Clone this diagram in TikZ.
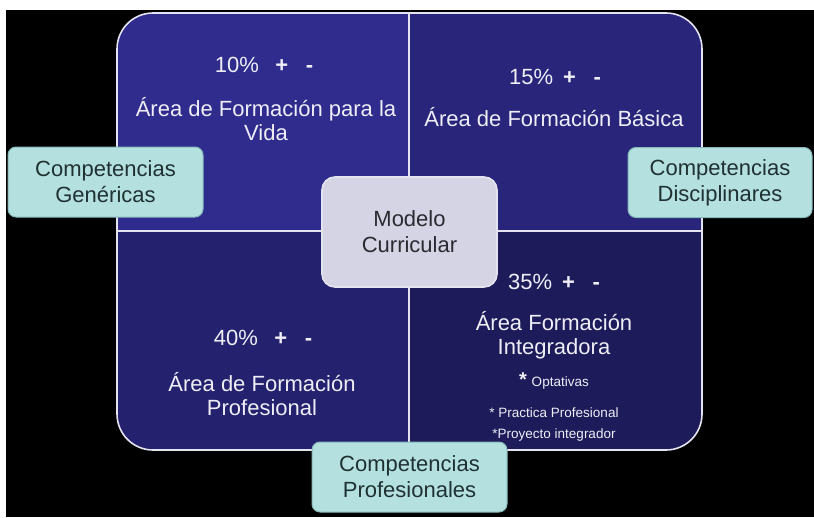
\documentclass[tikz,border=0pt]{standalone}
\usepackage{fontspec}
\setmainfont{Liberation Sans}
\usetikzlibrary{positioning}
\usepackage{xcolor}

\definecolor{areatl}{HTML}{2F2C8E}
\definecolor{areatr}{HTML}{28257A}
\definecolor{areabl}{HTML}{24216F}
\definecolor{areabr}{HTML}{1D1B59}
\definecolor{linecol}{HTML}{E4E3F0}
\definecolor{areatext}{HTML}{EEEEF6}
\definecolor{modelfill}{HTML}{D5D4E4}
\definecolor{modeltext}{HTML}{2A2A33}
\definecolor{compfill}{HTML}{B5E0E0}
\definecolor{compedge}{HTML}{86B9BA}
\definecolor{comptext}{HTML}{1F3133}

\begin{document}
\begin{tikzpicture}[x=1pt, y=-1pt,
            areatxt/.style={ text=areatext, align=center, font=\fontsize{22}{24}\selectfont },
            smalltxt/.style={ text=areatext, align=center, font=\fontsize{13.5}{14}\selectfont },
            modelbox/.style={ rectangle, draw=linecol, line width=1.6pt, rounded corners=13pt, fill=modelfill, text=modeltext, minimum width=175pt, minimum height=110pt, align=center, font=\fontsize{22}{26}\selectfont },
            compbox/.style={ rectangle, draw=compedge, line width=1pt, rounded corners=8pt, fill=compfill, text=comptext, minimum width=195pt, minimum height=70pt, align=center, font=\fontsize{22}{26}\selectfont },
            divider/.style={ draw=linecol, line width=1.6pt }
        ]
            % Background
            \useasboundingbox (0,0) rectangle (814,517);
            \fill[white] (0,0) rectangle (814,517);
            \fill[black] (6,10) rectangle (814,517);

            % Quadrants
            \begin{scope}
                \clip[rounded corners=36pt] (117,13) rectangle (702,450);
                \fill[areatl] (117,13) rectangle (409,231);
                \fill[areatr] (409,13) rectangle (702,231);
                \fill[areabl] (117,231) rectangle (409,450);
                \fill[areabr] (409,231) rectangle (702,450);
            \end{scope}
            \draw[divider, rounded corners=36pt] (117,13) rectangle (702,450);
            \draw[divider] (409,13) -- (409,450);
            \draw[divider] (117,231) -- (702,231);

            % Area texts
            \node (vidapct) [areatxt] at (264,65) {10\%\hspace{0.75em}{\bfseries +}\hspace{0.8em}{\bfseries -}};
            \node (vidaarea) [areatxt] at (266,119) {Área de Formación para la\\Vida};
            \node (basicapct) [areatxt] at (555,77) {15\%\hspace{0.45em}{\bfseries +}\hspace{0.8em}{\bfseries -}};
            \node (basicaarea) [areatxt] at (554,117) {Área de Formación Básica};
            \node (profpct) [areatxt] at (263,338) {40\%\hspace{0.75em}{\bfseries +}\hspace{0.8em}{\bfseries -}};
            \node (profarea) [areatxt] at (262,394) {Área de Formación\\Profesional};
            \node (integpct) [areatxt] at (554,282) {35\%\hspace{0.45em}{\bfseries +}\hspace{0.8em}{\bfseries -}};
            \node (integarea) [areatxt] at (554,335) {Área Formación\\Integradora};

            % Optional list
            \node (optativas) [smalltxt] at (554,381) {{\fontsize{20}{20}\selectfont\bfseries *}\hspace{0.35em}Optativas};
            \node (practica) [smalltxt] at (554,413) {* Practica Profesional};
            \node (proyecto) [smalltxt] at (554,435) {*Proyecto integrador};

            % Main node
            \node (modelo) [modelbox] at (409.5,232) {Modelo\\Curricular};

            % Competencias
            \node (genericas) [compbox] at (105.5,182) {Competencias\\Genéricas};
            \node (disciplinares) [compbox, minimum width=184pt] at (720,182.5) {Competencias\\Disciplinares};
            \node (profesionales) [compbox] at (409.5,477) {Competencias\\Profesionales};

        \end{tikzpicture}
\end{document}
